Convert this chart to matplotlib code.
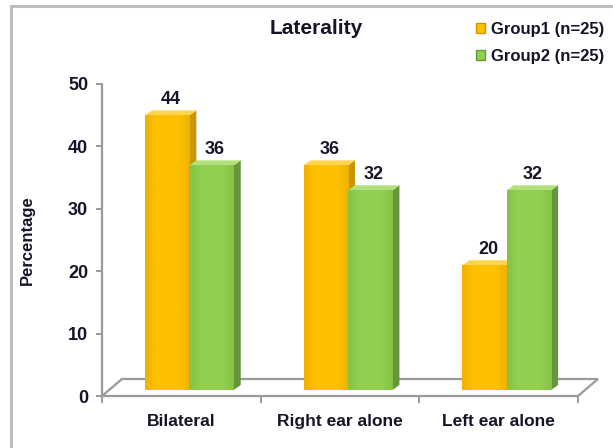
import numpy as np
import matplotlib
matplotlib.use("Agg")
import matplotlib.pyplot as plt
from matplotlib.patches import Polygon, Patch
from matplotlib.lines import Line2D
from matplotlib.transforms import ScaledTranslation
from matplotlib.colors import to_rgb

plt.rcParams["font.family"] = ["Liberation Sans", "DejaVu Sans"]
plt.rcParams["font.weight"] = "bold"

# Data
categories = ["Bilateral", "Right ear alone", "Left ear alone"]
series_names = ["Group1 (n=25)", "Group2 (n=25)"]
group1 = [44, 36, 20]
group2 = [36, 32, 32]
y_ticks = [0, 10, 20, 30, 40, 50]

TEXT = "#14142a"
GRID_GRAY = "#9a9a9a"
styles = [
    dict(front="#FFC000", dark="#E6A800", side="#C99500", top="#FFD54F"),
    dict(front="#92D050", dark="#7DB83F", side="#67953A", top="#B2E07A"),
]

W, H = 613, 448
fig = plt.figure(figsize=(W / 100, H / 100), dpi=100)
fig.patch.set_facecolor("white")

# Plot area in pixel units
left, right, bottom, top = 102, 578, 396, 84
ax = fig.add_axes([left / W, 1 - bottom / H, (right - left) / W, (bottom - top) / H])
ax.set_xlim(-0.5, 2.5)
ax.set_ylim(0, 50)
ax.set_facecolor("none")

ppx = (right - left) / 3.0     # pixels per x unit
ppy = (bottom - top) / 50.0    # pixels per y unit

# Frame around the chart
fig.add_artist(Line2D([11 / W, 11 / W], [0, 1 - 6 / H], transform=fig.transFigure,
                      color="#bdbdbd", lw=2.2))
fig.add_artist(Line2D([11 / W, 1], [1 - 6 / H, 1 - 6 / H], transform=fig.transFigure,
                      color="#bdbdbd", lw=2.2))

# Floor of the 3-D plot area
fdx, fdy = 20 / ppx, 17 / ppy
floor = Polygon([(-0.5, 0), (2.5, 0), (2.5 + fdx, fdy), (-0.5 + fdx, fdy)],
                closed=True, facecolor="white", edgecolor=GRID_GRAY, lw=1.6,
                clip_on=False, zorder=1)
ax.add_patch(floor)

# Axes styling
for s in ["top", "right", "bottom"]:
    ax.spines[s].set_visible(False)
ax.spines["left"].set_color(GRID_GRAY)
ax.spines["left"].set_linewidth(1.6)
ax.set_yticks(y_ticks)
ax.set_yticklabels([str(t) for t in y_ticks], fontsize=13, fontweight="bold", color=TEXT)
ax.tick_params(axis="y", length=4, width=1.4, color=GRID_GRAY, pad=6)
x = np.arange(len(categories))
ax.set_xticks(x)
ax.set_xticklabels(categories, fontsize=12.5, fontweight="bold", color=TEXT)
ax.tick_params(axis="x", which="major", length=0, pad=13)
ax.set_xticks([-0.5, 0.5, 1.5, 2.5], minor=True)
ax.tick_params(axis="x", which="minor", length=5, width=1.4, color=GRID_GRAY)

# Bars are drawn slightly back into the floor depth
shift = ax.transData + ScaledTranslation(8 / 100, 6 / 100, fig.dpi_scale_trans)
width = 0.28
ddx, ddy = 7 / ppx, 5 / ppy


def gradient_img(c_dark, c_light, n=64):
    a = np.array(to_rgb(c_dark))
    b = np.array(to_rgb(c_light))
    t = np.linspace(0, 1, n)
    prof = np.clip(np.where(t < 0.25, 0.4 + 2.4 * t, 1.0 - 0.6 * np.clip((t - 0.75) / 0.25, 0, 1)), 0, 1)
    img = a[None, :] + (b - a)[None, :] * prof[:, None]
    return img[None, :, :]


for i in range(len(categories)):
    for k, vals in enumerate([group1, group2]):
        st = styles[k]
        xc = x[i] + (k - 0.5) * width
        v = vals[i]
        x0, x1 = xc - width / 2, xc + width / 2
        side = Polygon([(x1, 0), (x1 + ddx, ddy), (x1 + ddx, v + ddy), (x1, v)],
                       closed=True, facecolor=st["side"], edgecolor="none",
                       transform=shift, zorder=3)
        topf = Polygon([(x0, v), (x1, v), (x1 + ddx, v + ddy), (x0 + ddx, v + ddy)],
                       closed=True, facecolor=st["top"], edgecolor="none",
                       transform=shift, zorder=3)
        ax.add_patch(side)
        ax.add_patch(topf)
        bar = ax.bar(xc, v, width=width, color=st["front"], edgecolor="none",
                     transform=shift, zorder=4)[0]
        im = ax.imshow(gradient_img(st["dark"], st["front"]), extent=(x0, x1, 0, v),
                       aspect="auto", zorder=4.5, interpolation="bilinear")
        im.set_transform(shift)
        im.set_clip_path(bar)
        ax.annotate(str(v), xy=(xc + ddx / 2, v + ddy), xycoords=shift,
                    xytext=(0, 1.5), textcoords="offset points",
                    ha="center", va="bottom", fontsize=13, fontweight="bold",
                    color=TEXT, zorder=6)

ax.set_xlim(-0.5, 2.5)
ax.set_ylim(0, 50)

# Titles and legend
fig.text(316 / W, 1 - 29 / H, "Laterality", ha="center", va="center",
         fontsize=15, fontweight="bold", color=TEXT)
fig.text(27 / W, 1 - 240 / H, "Percentage", ha="center", va="center", rotation=90,
         fontsize=12, fontweight="bold", color=TEXT)

handles = [Patch(facecolor=styles[k]["front"], edgecolor=styles[k]["side"], lw=1.0)
           for k in range(2)]
leg = fig.legend(handles, series_names, loc="upper left",
                 bbox_to_anchor=(476 / W, 1 - 22 / H), frameon=False,
                 prop=dict(size=12, weight="bold"), handlelength=0.55,
                 handleheight=0.55, handletextpad=0.35, labelspacing=0.72,
                 borderaxespad=0, borderpad=0)
for t in leg.get_texts():
    t.set_color(TEXT)

fig.savefig("out.png", dpi=100, facecolor="white")
